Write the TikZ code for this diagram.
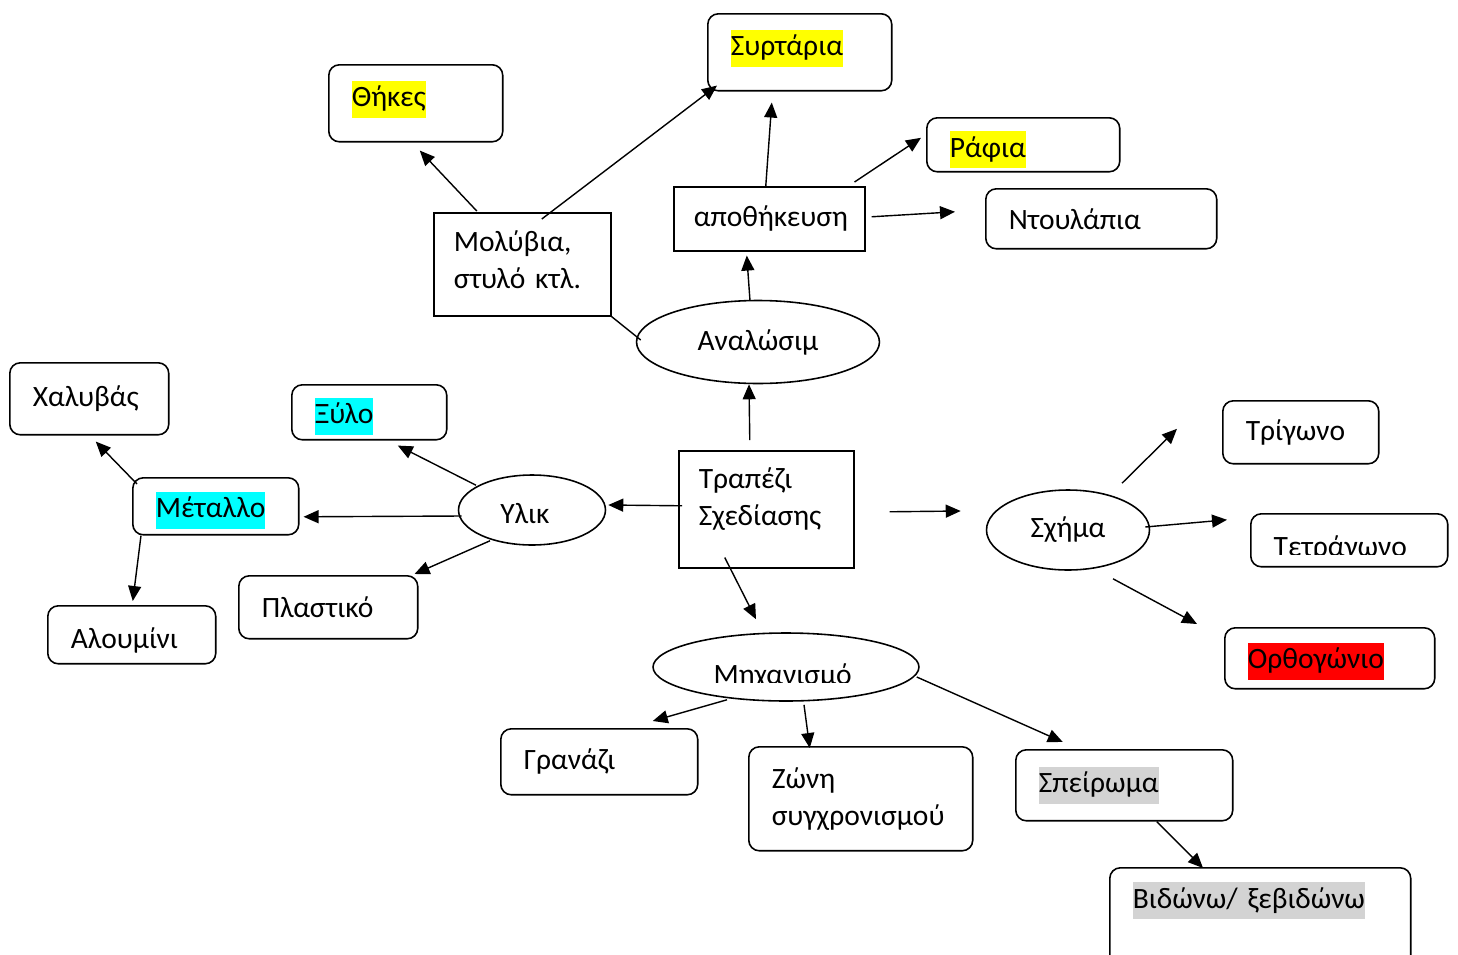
\documentclass[tikz,border=0pt]{standalone}
\usepackage{fontspec}
\setmainfont{Carlito}
\usetikzlibrary{arrows.meta,shapes.geometric}
\definecolor{hlgray}{RGB}{211,211,211}
\definecolor{hlcyan}{RGB}{0,255,255}
\definecolor{hlyellow}{RGB}{255,255,0}
\definecolor{hlred}{RGB}{255,0,0}
\newcommand{\hlbox}[2]{{\setlength{\fboxsep}{0pt}\colorbox{#1}{\strut #2}}}
\newcommand{\padbox}[2]{\rule[-#2]{0pt}{\dimexpr #1+#2\relax}}

\begin{document}
\begin{tikzpicture}[x=0.02cm, y=-0.02cm, line width=0.8pt, every node/.style={font=\fontsize{16.8}{21}\selectfont}, >={Triangle[length=3mm,width=2.6mm]}, box/.style={draw, line width=0.9pt, rounded corners=6pt, anchor=north west, align=left, inner xsep=0.46cm, inner ysep=0pt}, sbox/.style={box, sharp corners}, oval/.style={draw, line width=0.9pt, ellipse, inner sep=0pt}]
	\useasboundingbox (0,0) rectangle (1458,954);
	\node[box, text width=2.56cm, minimum height=1.54cm] (thk) at (328,64) {\hlbox{hlyellow}{Θήκες}\padbox{14.7pt}{10.8pt}};
	\node[box, text width=2.76cm, minimum height=1.54cm] (syr) at (707,13) {\hlbox{hlyellow}{Συρτάρια}\padbox{14.7pt}{10.8pt}};
	\node[box, text width=2.94cm, minimum height=1.08cm] (raf) at (926,117) {\hlbox{hlyellow}{Ράφια}\padbox{20.4pt}{6.3pt}};
	\node[box, text width=3.70cm, minimum height=1.20cm] (ntl) at (985,188) {Ντουλάπια};
	\node[sbox, text width=3.02cm, minimum height=1.28cm, inner xsep=0.4cm] (apo) at (673,186) {αποθήκευση};
	\node[sbox, text width=2.74cm, minimum height=2.06cm, inner xsep=0.4cm] (mol) at (433,212) {Μολύβια,\\στυλό κτλ.\padbox{0pt}{5.7pt}};
	\node[oval, minimum width=4.86cm, minimum height=1.66cm] (ana) at (758,342) {Αναλώσιμ};
	\node[box, text width=2.26cm, minimum height=1.44cm] (xal) at (9,362) {Χαλυβάς};
	\node[box, text width=2.18cm, minimum height=1.10cm] (xyl) at (291,384) {\hlbox{hlcyan}{Ξύλο}\padbox{19.2pt}{6.3pt}};
	\node[box, text width=2.40cm, minimum height=1.14cm] (met) at (132,477) {\hlbox{hlcyan}{Μέταλλο}\padbox{19.2pt}{6.3pt}};
	\node[oval, minimum width=2.94cm, minimum height=1.40cm] (yli) at (532,510) {Υλικ\kern8pt\padbox{15.6pt}{0pt}};
	\node[sbox, text width=2.70cm, minimum height=2.34cm, inner xsep=0.4cm] (tra) at (678,450) {Τραπέζι\\Σχεδίασης\padbox{0pt}{14pt}};
	\node[box, text width=2.44cm, minimum height=1.16cm] (alu) at (47,605) {Αλουμίνι\padbox{21.5pt}{6.3pt}};
	\node[box, text width=2.66cm, minimum height=1.26cm] (pla) at (238,575) {Πλαστικό};
	\node[oval, minimum width=3.26cm, minimum height=1.60cm] (sxi) at (1068,530) {Σχήμα};
	\node[box, text width=2.20cm, minimum height=1.26cm] (tri) at (1222,400) {Τρίγωνο};
	\node[box, text width=3.02cm, minimum height=1.06cm] (tet) at (1250,513) {};
	\node[box, text width=3.28cm, minimum height=1.22cm] (orth) at (1224,627) {\hlbox{hlred}{Ορθογώνιο}\padbox{18.1pt}{6.3pt}};
	\node[oval, minimum width=5.32cm, minimum height=1.36cm] (mix) at (786,667) {};
	\node[box, text width=3.02cm, minimum height=1.32cm] (gra) at (500,728) {Γρανάζι};
	\node[box, text width=3.56cm, minimum height=2.08cm] (zon) at (748,746) {Ζώνη\\συγχρονισμού};
	\node[box, text width=3.42cm, minimum height=1.42cm] (spe) at (1015,749) {\hlbox{hlgray}{Σπείρωμα}};
	\node[box, text width=5.10cm, inner ysep=0.29cm, text depth=1.05cm] (vid) at (1109,867) {\hlbox{hlgray}{Βιδώνω/ ξεβιδώνω}};
	\begin{scope}
		\clip (700,640) rectangle (880,682);
		\node[anchor=base west, inner sep=0pt] (mixl) at (713,684) {Μηχανισμό};
	\end{scope}
	\begin{scope}
		\clip (1260,520) rectangle (1440,554);
		\node[anchor=base west, inner sep=0pt] (tetl) at (1273,556) {Τετράγωνο};
	\end{scope}
	\draw[->] ([shift={(-16.5,-10)}]tra.north) -- ([shift={(-9,0)}]ana.south);
	\draw[->] ([shift={(-8,1)}]ana.north) -- ([shift={(-22.5,4)}]apo.south);
	\draw[->] ([shift={(-3.5,0)}]apo.north) -- ([shift={(-28,11)}]syr.south);
	\draw[->] ([shift={(-11,-4)}]apo.north east) -- ([shift={(-5,-7)}]raf.west);
	\draw[->] ([shift={(6,-2)}]apo.east) -- ([shift={(-30,-7)}]ntl.west);
	\draw[->] ([shift={(-45.5,-1)}]mol.north) -- ([shift={(4,8)}]thk.south);
	\draw[->] ([shift={(19.5,7)}]mol.north) -- ([shift={(10,-6)}]syr.south west);
	\draw (mol.south east) -- ([shift={(5,-2)}]ana.west);
	\draw[->] ([shift={(4,-3.5)}]tra.west) -- ([shift={(2,-5)}]yli.east);
	\draw[->] ([shift={(4,6)}]yli.west) -- ([shift={(4,10.5)}]met.east);
	\draw[->] ([shift={(-56,11)}]yli.north) -- ([shift={(28.5,5)}]xyl.south);
	\draw[->] ([shift={(-42,-5)}]yli.south) -- ([shift={(-4,-1)}]pla.north east);
	\draw[->] ([shift={(5,7)}]met.north west) -- ([shift={(6.5,6)}]xal.south);
	\draw[->] ([shift={(9,0)}]met.south west) -- ([shift={(1,-4)}]alu.north);
	\draw[->] ([shift={(35,2.5)}]tra.east) -- ([shift={(-25,-19)}]sxi.west);
	\draw[->] ([shift={(54,-6)}]sxi.north) -- ([shift={(-45,-3.5)}]tri.west);
	\draw[->] ([shift={(-5,-3)}]sxi.east) -- ([shift={(-23,-20.5)}]tet.west);
	\draw[->] ([shift={(45,8)}]sxi.south) -- ([shift={(-27,-3)}]orth.north west);
	\draw[->] ([shift={(-41.5,-11)}]tra.south) -- ([shift={(-30,-13)}]mix.north);
	\draw[->] ([shift={(-59,-2)}]mix.south) -- ([shift={(53.5,-7)}]gra.north);
	\draw[->] ([shift={(18,3)}]mix.south) -- ([shift={(-51,2)}]zon.north);
	\draw[->] ([shift={(-3,10)}]mix.east) -- ([shift={(-61.5,-7)}]spe.north);
	\draw[->] ([shift={(32.5,0)}]spe.south) -- ([shift={(94,1)}]vid.north west);
\end{tikzpicture}
\end{document}
